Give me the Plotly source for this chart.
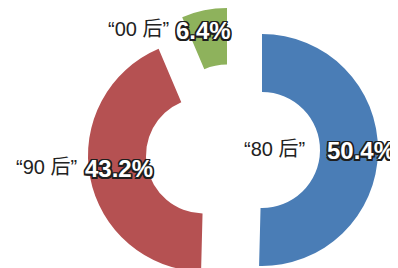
import plotly.graph_objects as go

labels = ["“80 后”", "“90 后”", "“00 后”"]
values = [50.4, 43.2, 6.4]
pct_text = ["50.4%", "43.2%", "6.4%"]
colors = ["#4a7db6", "#b55152", "#8eb25c"]

W, H = 398, 268
OFF = 8  # page body margin offset
R_in = 58
# exploded slice centres and outer radii in page pixels (from top-left)
centers = [(262, 150, 116), (204, 155.5, 116), (227, 122.5, 114.5)]

fig = go.Figure()
for i, (cx, cy, R) in enumerate(centers):
    cx -= OFF
    cy -= OFF
    slice_colors = [colors[j] if j == i else "rgba(0,0,0,0)" for j in range(len(values))]
    y0 = max(0.0, (H - cy - R) / H)
    y1 = min(1.0, (H - cy + R) / H)
    fig.add_trace(go.Pie(
        labels=labels, values=values,
        sort=False, direction="clockwise", rotation=0,
        hole=R_in / R,
        marker=dict(colors=slice_colors, line=dict(width=0)),
        textinfo="none", hoverinfo="label+value",
        showlegend=False,
        domain=dict(x=[(cx - R) / W, (cx + R) / W], y=[y0, y1]),
    ))

font_fam = "Arial, 'Liberation Sans', 'Noto Sans CJK SC', sans-serif"
o = "1.5px"
outline = ", ".join(f"{dx} {dy} 0 #1e1e1e" for dx, dy in
                    [(f"-{o}", f"-{o}"), (o, f"-{o}"), (f"-{o}", o), (o, o),
                     ("0", f"-{o}"), ("0", o), (f"-{o}", "0"), (o, "0")])

# label centres (page pixels)
name_pos = [(274, 149), (46.5, 167), (138.5, 29.5)]
pct_pos = [(361, 150), (118.5, 168), (203, 30)]
for i in range(len(values)):
    nx, ny = name_pos[i]
    px, py = pct_pos[i]
    fig.add_annotation(x=(nx - OFF) / W, y=1 - (ny - OFF) / H, xref="paper", yref="paper",
                       xanchor="center", yanchor="middle",
                       text=labels[i], showarrow=False,
                       font=dict(family=font_fam, size=20, color="#222"))
    fig.add_annotation(x=(px - OFF) / W, y=1 - (py - OFF) / H, xref="paper", yref="paper",
                       xanchor="center", yanchor="middle",
                       text=pct_text[i], showarrow=False,
                       font=dict(family=font_fam, size=24, color="white", weight="bold",
                                 shadow=outline))

fig.update_layout(width=W, height=H, margin=dict(l=0, r=0, t=0, b=0),
                  paper_bgcolor="white", plot_bgcolor="white")
fig.write_html("out.html")
